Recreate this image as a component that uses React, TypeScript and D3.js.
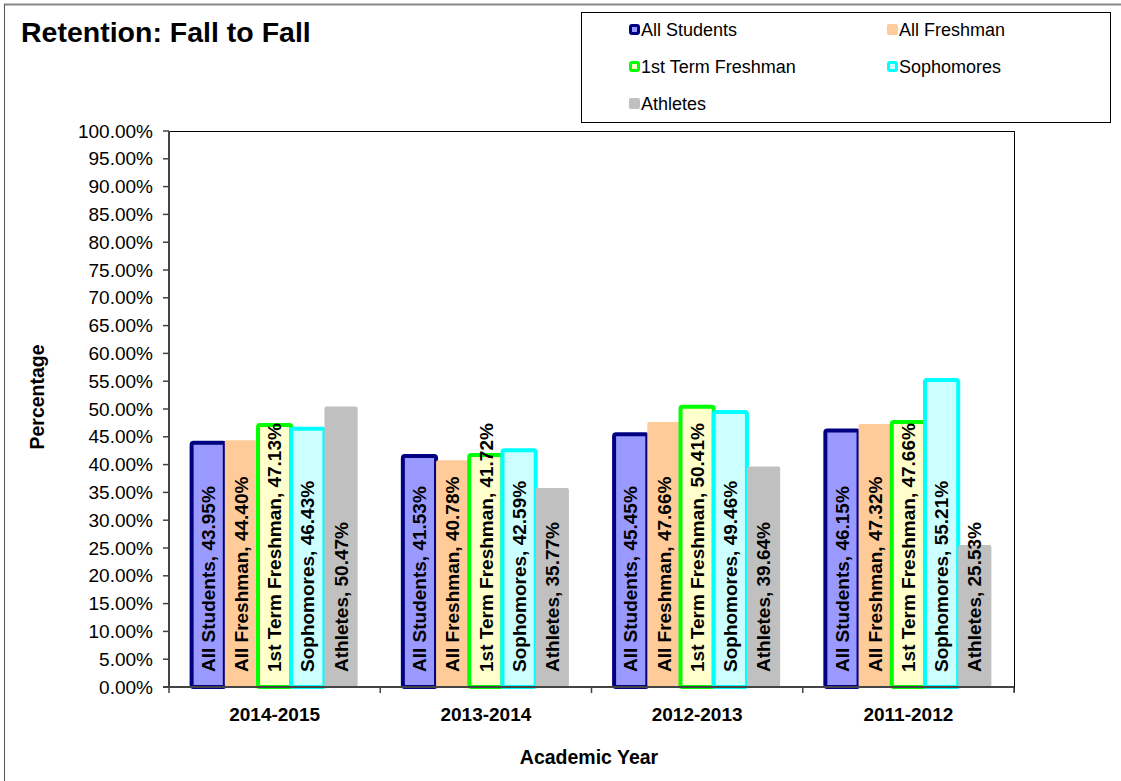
import React from "react";
import * as d3 from "d3";

const years = ["2014-2015", "2013-2014", "2012-2013", "2011-2012"];
const seriesNames = ["All Students", "All Freshman", "1st Term Freshman", "Sophomores", "Athletes"];
const allStudents = [43.95, 41.53, 45.45, 46.15];
const allFreshman = [44.4, 40.78, 47.66, 47.32];
const firstTermFreshman = [47.13, 41.72, 50.41, 47.66];
const sophomores = [46.43, 42.59, 49.46, 55.21];
const athletes = [50.47, 35.77, 39.64, 25.53];
const yTicks = d3.range(0, 101, 5);

const fills = ["#9999FF", "#FFCC99", "#FFFFCC", "#CCFFFF", "#C0C0C0"];
const strokes = ["#000080", null, "#00FF00", "#00FFFF", null];

const FONT = "'Liberation Sans', Arial, sans-serif";

export default function App() {
  const values = [allStudents, allFreshman, firstTermFreshman, sophomores, athletes];
  const left = 169, right = 1014, top = 131, bottom = 687;
  const x0 = d3.scaleBand<string>().domain(years).range([left, right]).paddingInner(0.214).paddingOuter(0.107);
  const x1 = d3.scaleBand<string>().domain(seriesNames).range([0, x0.bandwidth()]);
  const y = d3.scaleLinear().domain([0, 100]).range([bottom, top]);
  const step = x0.step();
  const boundaries = d3.range(0, years.length + 1).map((i) => left + i * step);

  const legendPos = [
    [629, 30], [887, 30], [629, 67], [887, 67], [629, 104],
  ];

  return (
    <svg width={1121} height={781} style={{ position: "absolute", left: 0, top: 0, background: "#fff" }} fontFamily={FONT}>
      <rect x={0} y={0} width={1121} height={781} fill="#fff" />
      <line x1={4} y1={4.5} x2={1121} y2={4.5} stroke="#888" strokeWidth={2} />
      <line x1={4.5} y1={4} x2={4.5} y2={781} stroke="#555" strokeWidth={1} />

      <text x={21} y={42} fontSize={28.5} fontWeight="bold">Retention: Fall to Fall</text>

      {/* legend */}
      <rect x={581.5} y={12.5} width={529} height={110} fill="#fff" stroke="#000" strokeWidth={1} />
      {seriesNames.map((s, i) => (
        <g key={s}>
          {strokes[i] ? (
            <rect x={legendPos[i][0] + 1.5} y={legendPos[i][1] - 4.5} width={8} height={8} rx={1.5} fill={fills[i]} stroke={strokes[i] as string} strokeWidth={3} />
          ) : (
            <rect x={legendPos[i][0]} y={legendPos[i][1] - 6} width={11} height={11} rx={2} fill={fills[i]} />
          )}
          <text x={legendPos[i][0] + 12} y={legendPos[i][1]} dy="0.35em" fontSize={18}>{s}</text>
        </g>
      ))}

      {/* plot border */}
      <line x1={left} y1={top + 0.5} x2={right} y2={top + 0.5} stroke="#000" strokeWidth={1} />
      <line x1={right + 0.5} y1={top} x2={right + 0.5} y2={bottom + 5} stroke="#000" strokeWidth={1} />

      {/* bars */}
      {years.map((yr, gi) => (
        <g key={yr}>
          {seriesNames.map((s, si) => {
            const v = values[si][gi];
            const bx = (x0(yr) as number) + (x1(s) as number);
            const bw = x1.bandwidth();
            return (
              <rect key={s} x={bx} y={y(v)} width={bw} height={bottom - y(v)} rx={2}
                fill={fills[si]} stroke={strokes[si] ?? "none"} strokeWidth={strokes[si] ? 4 : 0} />
            );
          })}
        </g>
      ))}

      {/* y axis */}
      <line x1={left} y1={top} x2={left} y2={bottom} stroke="#444" strokeWidth={2} />
      {yTicks.map((t) => (
        <g key={t}>
          <line x1={left - 6} y1={y(t)} x2={left} y2={y(t)} stroke="#444" strokeWidth={1.5} />
          <text x={153} y={y(t)} dy="0.35em" textAnchor="end" fontSize={19}>{t.toFixed(2)}%</text>
        </g>
      ))}

      {/* x axis */}
      <line x1={left - 6} y1={bottom} x2={right} y2={bottom} stroke="#444" strokeWidth={2} />
      {boundaries.map((b, i) => (
        <line key={i} x1={b} y1={bottom} x2={b} y2={bottom + 6} stroke="#444" strokeWidth={1.5} />
      ))}
      {years.map((yr) => (
        <text key={yr} x={(x0(yr) as number) + x0.bandwidth() / 2} y={714} dy="0.35em" textAnchor="middle" fontSize={19} fontWeight="bold">{yr}</text>
      ))}

      {/* data labels */}
      {years.map((yr, gi) => (
        <g key={yr}>
          {seriesNames.map((s, si) => {
            const v = values[si][gi];
            const cx = (x0(yr) as number) + (x1(s) as number) + x1.bandwidth() / 2;
            const ly = bottom - 15;
            return (
              <text key={s} transform={`translate(${cx},${ly}) rotate(-90)`} dy="0.35em" fontSize={19} fontWeight="bold">
                {`${s}, ${v.toFixed(2)}%`}
              </text>
            );
          })}
        </g>
      ))}

      <text x={589} y={757} dy="0.35em" textAnchor="middle" fontSize={19.5} fontWeight="bold">Academic Year</text>
      <text transform={`translate(37,397) rotate(-90)`} dy="0.35em" textAnchor="middle" fontSize={19.5} fontWeight="bold">Percentage</text>
    </svg>
  );
}
